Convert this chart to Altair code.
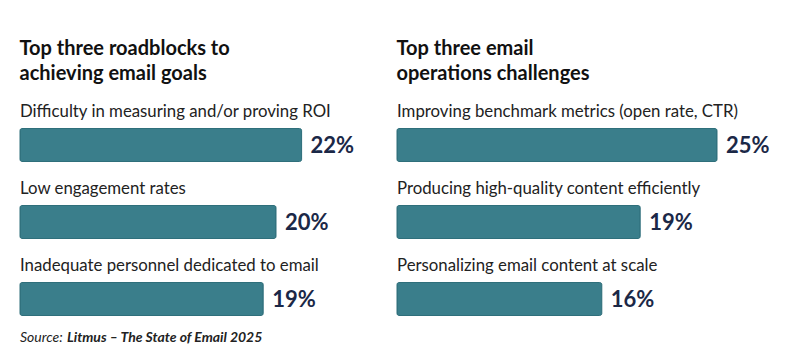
import altair as alt
import pandas as pd

left_title = ["Top three roadblocks to", "achieving email goals"]
left_labels = ["Difficulty in measuring and/or proving ROI", "Low engagement rates",
               "Inadequate personnel dedicated to email"]
left_values = [22, 20, 19]

right_title = ["Top three email", "operations challenges"]
right_labels = ["Improving benchmark metrics (open rate, CTR)",
                "Producing high-quality content efficiently",
                "Personalizing email content at scale"]
right_values = [25, 19, 16]

source_parts = ["Source:", "Litmus – The State of Email 2025"]

FONT = "Lato"
BAR = "#3a7e8b"
NAVY = "#1b2847"
W = 360
H = 231
XS = alt.Scale(domain=[0, 28.125], nice=False, zero=True)


def panel(title, labels, values, with_source=False):
    df = pd.DataFrame({"row": list(range(len(labels))), "label": labels, "value": values})
    df["pct"] = [f"{v}%" for v in values]
    base = alt.Chart(df).encode(
        y=alt.Y("row:O", axis=None, scale=alt.Scale(paddingInner=0, paddingOuter=0))
    )
    bars = base.mark_bar(height=33, cornerRadius=2, color=BAR, stroke="#2f6f7b",
                         strokeWidth=1, yOffset=8.5).encode(
        x=alt.X("value:Q", axis=None, scale=XS)
    )
    vals = base.mark_text(align="left", baseline="middle", dx=9, yOffset=9.5, font=FONT,
                          fontSize=22, fontWeight="bold", color=NAVY).encode(
        x=alt.X("value:Q", scale=XS), text="pct:N"
    )
    labs = base.mark_text(align="left", baseline="middle", yOffset=-25, font=FONT,
                          fontSize=16.8, color="#222222").encode(
        x=alt.value(0), text="label:N"
    )
    layers = [bars, vals, labs]
    if with_source:
        sdf = pd.DataFrame({"t": [source_parts[0]]})
        sdf2 = pd.DataFrame({"t": [source_parts[1]]})
        s1 = alt.Chart(sdf).mark_text(align="left", baseline="middle", font=FONT,
                                      fontSize=14, fontStyle="italic", color="#222222").encode(
            x=alt.value(0), y=alt.value(H + 9), text="t:N")
        s2 = alt.Chart(sdf2).mark_text(align="left", baseline="middle", font=FONT,
                                       fontSize=14, fontStyle="italic", fontWeight="bold",
                                       color="#222222").encode(
            x=alt.value(47), y=alt.value(H + 9), text="t:N")
        layers += [s1, s2]
    return alt.layer(*layers).properties(
        width=W, height=H,
        title=alt.TitleParams(title, anchor="start", font=FONT, fontSize=20,
                              fontWeight="bold", color="#111111", lineHeight=25, offset=14)
    )


chart = alt.hconcat(
    panel(left_title, left_labels, left_values, True),
    panel(right_title, right_labels, right_values),
    spacing=16,
).properties(
    padding={"left": 11, "top": 31, "right": 5, "bottom": 5},
    background="white",
).configure_view(stroke=None)

chart.save("out.html", embed_options={"renderer": "svg", "actions": False})
